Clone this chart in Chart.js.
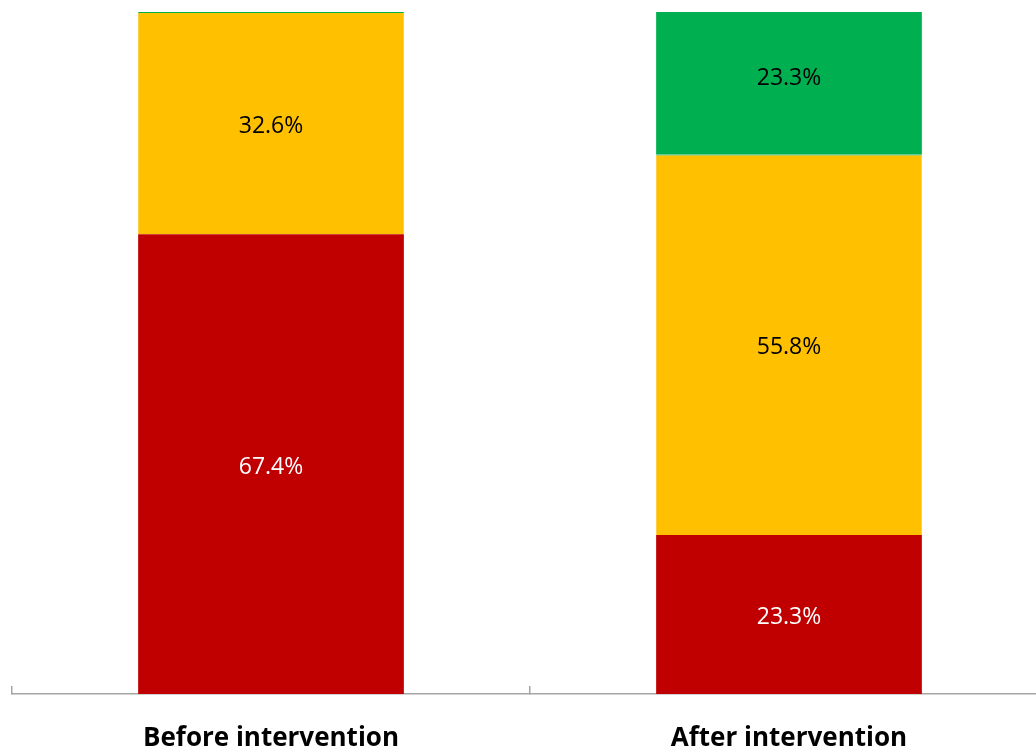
<!DOCTYPE html>
<html>
<head>
<meta charset="utf-8">
<script src="https://cdn.jsdelivr.net/npm/chart.js@4.4.1/dist/chart.umd.min.js"></script>
<style>
    html, body { margin: 0; padding: 0; background: #fff; overflow: hidden; }
    #wrap { width: 1048px; height: 746px; }
</style>
</head>
<body>
<div id="wrap"><canvas id="chart" width="1048" height="746"></canvas></div>
<script>
// Chart data
const categories = ['Before intervention', 'After intervention'];
const redValues = [67.4, 23.3];
const yellowValues = [32.6, 55.8];
const greenValues = [0, 23.3];

// Draw percentage labels in the middle of each segment
const segmentLabels = {
    id: 'segmentLabels',
    afterDatasetsDraw(chart) {
        const ctx = chart.ctx;
        ctx.save();
        ctx.font = '23px "Open Sans"';
        ctx.textAlign = 'center';
        ctx.textBaseline = 'middle';
        chart.data.datasets.forEach((ds, i) => {
            const meta = chart.getDatasetMeta(i);
            meta.data.forEach((bar, j) => {
                const v = ds.data[j];
                if (!v) return;
                ctx.fillStyle = ds.labelColor;
                ctx.fillText(v.toFixed(1) + '%', bar.x, (bar.y + bar.base) / 2 + 3);
            });
        });
        ctx.restore();
    }
};

const ctx = document.getElementById('chart').getContext('2d');

new Chart(ctx, {
    type: 'bar',
    data: {
        labels: categories,
        datasets: [
            { label: 'Red', data: redValues, backgroundColor: '#C00000', labelColor: '#ffffff' },
            // thin green edge on top of the yellow stands in for the empty green segment
            { label: 'Yellow', data: yellowValues, backgroundColor: '#FFC000', labelColor: '#000000',
              borderColor: '#00B050', borderWidth: { top: 1, left: 0, right: 0, bottom: 0 } },
            { label: 'Green', data: greenValues, backgroundColor: '#00B050', labelColor: '#000000' }
        ]
    },
    options: {
        responsive: false,
        animation: false,
        layout: { padding: { left: 12, top: 12, right: 0, bottom: 0 } },
        datasets: {
            bar: { categoryPercentage: 1, barPercentage: 0.513, borderSkipped: false }
        },
        plugins: {
            legend: { display: false },
            tooltip: { enabled: false }
        },
        scales: {
            x: {
                stacked: true,
                border: { color: '#a6a6a6', width: 1.5 },
                grid: {
                    drawOnChartArea: false,
                    color: '#a6a6a6',
                    lineWidth: 1.5,
                    tickLength: -8
                },
                ticks: {
                    color: '#000000',
                    padding: 37,
                    font: { family: 'Open Sans', size: 26, weight: 'bold' }
                },
                afterFit(scale) { scale.height = 52; }
            },
            y: {
                stacked: true,
                display: false,
                min: 0,
                max: 100
            }
        }
    },
    plugins: [segmentLabels]
});
</script>
</body>
</html>
